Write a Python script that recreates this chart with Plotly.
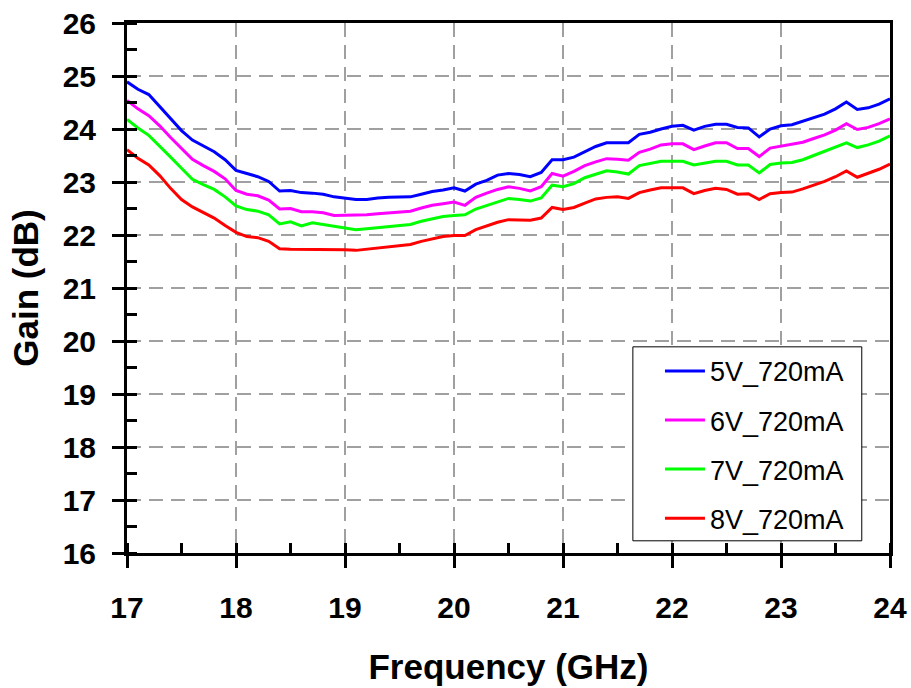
import plotly.graph_objects as go

# Frequency sweep (GHz)
freq = [round(17.0 + 0.1 * i, 1) for i in range(71)]

# Small-signal gain (dB) per bias condition
gain_5v = [24.89, 24.75, 24.65, 24.42, 24.20, 23.97, 23.79, 23.68, 23.57, 23.42,
           23.22, 23.16, 23.10, 23.01, 22.83, 22.84, 22.80, 22.79, 22.77, 22.72,
           22.70, 22.67, 22.67, 22.70, 22.71, 22.71, 22.72, 22.77, 22.82, 22.85,
           22.89, 22.83, 22.96, 23.03, 23.13, 23.16, 23.14, 23.10, 23.18, 23.42,
           23.42, 23.47, 23.57, 23.67, 23.74, 23.74, 23.74, 23.90, 23.94, 24.00,
           24.05, 24.07, 23.98, 24.05, 24.09, 24.09, 24.03, 24.02, 23.85, 24.00,
           24.06, 24.08, 24.15, 24.22, 24.28, 24.38, 24.51, 24.37, 24.40, 24.47,
           24.57]
gain_6v = [24.54, 24.38, 24.25, 24.06, 23.84, 23.63, 23.43, 23.31, 23.20, 23.06,
           22.84, 22.77, 22.74, 22.66, 22.49, 22.50, 22.44, 22.44, 22.42, 22.37,
           22.37, 22.37, 22.38, 22.40, 22.42, 22.44, 22.45, 22.51, 22.56, 22.59,
           22.62, 22.56, 22.71, 22.79, 22.86, 22.91, 22.88, 22.83, 22.91, 23.16,
           23.11, 23.20, 23.31, 23.38, 23.44, 23.43, 23.41, 23.56, 23.62, 23.70,
           23.72, 23.72, 23.61, 23.68, 23.74, 23.74, 23.63, 23.63, 23.48, 23.64,
           23.68, 23.71, 23.75, 23.82, 23.89, 23.98, 24.10, 23.99, 24.03, 24.10,
           24.19]
gain_7v = [24.18, 24.02, 23.88, 23.68, 23.47, 23.26, 23.05, 22.95, 22.86, 22.72,
           22.55, 22.48, 22.45, 22.38, 22.21, 22.25, 22.17, 22.23, 22.20, 22.17,
           22.14, 22.10, 22.12, 22.14, 22.16, 22.17, 22.20, 22.26, 22.31, 22.35,
           22.37, 22.38, 22.49, 22.56, 22.62, 22.69, 22.67, 22.64, 22.70, 22.94,
           22.91, 22.97, 23.08, 23.15, 23.21, 23.19, 23.15, 23.31, 23.35, 23.39,
           23.39, 23.39, 23.32, 23.36, 23.39, 23.39, 23.32, 23.32, 23.17, 23.33,
           23.36, 23.37, 23.42, 23.50, 23.58, 23.66, 23.74, 23.65, 23.70, 23.77,
           23.87]
gain_8v = [23.61, 23.45, 23.32, 23.12, 22.88, 22.67, 22.53, 22.43, 22.32, 22.18,
           22.05, 21.97, 21.95, 21.88, 21.74, 21.73, 21.73, 21.73, 21.73, 21.73,
           21.72, 21.71, 21.73, 21.76, 21.78, 21.80, 21.82, 21.88, 21.93, 21.97,
           21.99, 21.99, 22.10, 22.17, 22.24, 22.29, 22.28, 22.28, 22.32, 22.52,
           22.48, 22.52, 22.60, 22.68, 22.71, 22.72, 22.69, 22.80, 22.85, 22.89,
           22.89, 22.89, 22.78, 22.84, 22.88, 22.86, 22.77, 22.78, 22.67, 22.78,
           22.80, 22.81, 22.87, 22.94, 23.01, 23.10, 23.21, 23.09, 23.16, 23.24,
           23.34]

series_names = ["5V_720mA", "6V_720mA", "7V_720mA", "8V_720mA"]
series_values = [gain_5v, gain_6v, gain_7v, gain_8v]
series_colors = ["#0000FF", "#FF00FF", "#00FF00", "#FF0000"]

x_range = [17, 24]
y_range = [16, 26]

FONT = "Liberation Sans, Arial, sans-serif"
AXIS_W = 3
GRID = dict(showgrid=True, gridcolor="#A0A0A0", gridwidth=1.5, griddash="14px,8px")

fig = go.Figure()
for name, vals, col in zip(series_names, series_values, series_colors):
    fig.add_trace(go.Scatter(
        x=freq, y=vals, mode="lines", name=name, legendgroup=name,
        line=dict(color=col, width=3),
    ))

# invisible trace that carries the inner halves of the major ticks
fig.add_trace(go.Scatter(
    x=freq, y=gain_5v, xaxis="x2", yaxis="y2", mode="lines",
    line=dict(width=0), opacity=0, showlegend=False, hoverinfo="skip",
))

tick_font = dict(family=FONT, size=30, color="black", weight="bold")
title_font = dict(family=FONT, size=35, color="black", weight="bold")

# framed legend box
fig.add_shape(
    type="rect", xref="paper", yref="paper",
    x0=0.663, x1=0.963, y0=0.023, y1=0.389,
    line=dict(color="black", width=1), fillcolor="white", layer="above",
)

fig.update_layout(
    width=911, height=688,
    margin=dict(l=127, r=21, t=23, b=135),
    paper_bgcolor="white", plot_bgcolor="white",
    showlegend=True,
    legend=dict(
        x=0.6985, y=0.389, xanchor="left", yanchor="top",
        bgcolor="rgba(0,0,0,0)", borderwidth=0,
        font=dict(family=FONT, size=27, color="black"),
        tracegroupgap=11, itemwidth=40,
    ),
    xaxis=dict(
        range=x_range, tickmode="linear", tick0=17, dtick=1, automargin=False,
        showline=True, linecolor="black", linewidth=AXIS_W, mirror=True,
        ticks="outside", ticklen=12, tickwidth=AXIS_W, tickcolor="black",
        minor=dict(ticks="inside", dtick=0.5, tick0=17, ticklen=10,
                   tickwidth=AXIS_W, tickcolor="black", showgrid=False),
        tickfont=tick_font, ticklabelstandoff=14,
        title=dict(text="Frequency (GHz)", font=title_font, standoff=32),
        zeroline=False, **GRID,
    ),
    yaxis=dict(
        range=y_range, tickmode="linear", tick0=16, dtick=1, automargin=False,
        showline=True, linecolor="black", linewidth=AXIS_W, mirror=True,
        ticks="outside", ticklen=12, tickwidth=AXIS_W, tickcolor="black",
        minor=dict(ticks="inside", dtick=0.5, tick0=16, ticklen=10,
                   tickwidth=AXIS_W, tickcolor="black", showgrid=False),
        tickfont=tick_font, ticklabelstandoff=10,
        title=dict(text="Gain (dB)", font=title_font, standoff=14),
        zeroline=False, **GRID,
    ),
    xaxis2=dict(
        range=x_range, overlaying="x", anchor="y2", side="bottom",
        tickmode="linear", tick0=17, dtick=1, ticks="inside", ticklen=10,
        tickwidth=AXIS_W, tickcolor="black", showticklabels=False,
        showline=False, showgrid=False, zeroline=False, automargin=False,
    ),
    yaxis2=dict(
        range=y_range, overlaying="y", anchor="x2", side="left",
        tickmode="linear", tick0=16, dtick=1, ticks="inside", ticklen=10,
        tickwidth=AXIS_W, tickcolor="black", showticklabels=False,
        showline=False, showgrid=False, zeroline=False, automargin=False,
    ),
)

fig.write_html("out.html")
